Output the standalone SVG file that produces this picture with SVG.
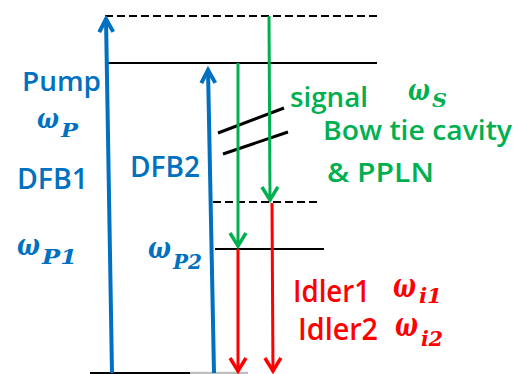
<svg xmlns="http://www.w3.org/2000/svg" width="525" height="374" viewBox="0 0 525 374">
<style>
.lvl{stroke:#000;stroke-width:2;fill:none}
.dash{stroke-dasharray:8 4}
.blue{stroke:#0070C0;stroke-width:4;fill:none}
.green{stroke:#00B050;stroke-width:3;fill:none}
.red{stroke:#FF0000;stroke-width:3;fill:none}
.t{font-family:"Open Sans","Liberation Sans",sans-serif;font-weight:600}
.m{font-family:"DejaVu Serif","Liberation Serif",serif;font-style:italic;font-weight:bold}
.cb{fill:#0070C0}.cg{fill:#00B050}.cr{fill:#FF0000}
</style>
<defs>
<marker id="ab" markerUnits="userSpaceOnUse" orient="auto" refX="0" refY="0" markerWidth="30" markerHeight="30" viewBox="-20 -15 30 30" overflow="visible"><path d="M-14,-7 L-1,0 L-14,7" fill="none" stroke="#0070C0" stroke-width="4"/></marker>
<marker id="ag" markerUnits="userSpaceOnUse" orient="auto" refX="0" refY="0" markerWidth="30" markerHeight="30" viewBox="-20 -15 30 30" overflow="visible"><path d="M-14,-8 L-1,0 L-14,8" fill="none" stroke="#00B050" stroke-width="3.5"/></marker>
<marker id="ar" markerUnits="userSpaceOnUse" orient="auto" refX="0" refY="0" markerWidth="30" markerHeight="30" viewBox="-20 -15 30 30" overflow="visible"><path d="M-14,-8 L-1,0 L-14,8" fill="none" stroke="#FF0000" stroke-width="3.5"/></marker>
</defs>
<g id="levels">
<path class="lvl dash" d="M105,16 H377"/>
<path class="lvl" d="M108,63 H377"/>
<path class="lvl dash" d="M213,202 H320"/>
<path class="lvl" d="M215,249 H324"/>
<path class="lvl" d="M90,373 H190" stroke-width="2.5"/>
<path d="M190,373 H248" stroke="#bfbfbf" stroke-width="2.5"/>
</g>
<g id="cavity">
<path d="M218,133 L284,108 M223,154 L288,132" stroke="#000" stroke-width="3" fill="none"/>
</g>
<g id="connectors">
<path id="dfb1" class="blue" d="M112,373 L106,18" marker-end="url(#ab)"/>
<path id="dfb2" class="blue" d="M214,373 L208,69" marker-end="url(#ab)"/>
<path id="signal1" class="green" d="M238,63 L238,247" marker-end="url(#ag)"/>
<path id="signal2" class="green" d="M269,16 L270,201" marker-end="url(#ag)"/>
<path id="idler1" class="red" d="M238,249 L238,372" marker-end="url(#ar)"/>
<path id="idler2" class="red" d="M272,203 L273,372" marker-end="url(#ar)"/>
</g>
<g id="pump-label">
<text class="t cb" x="22" y="91" font-size="27" textLength="79" lengthAdjust="spacingAndGlyphs">Pump</text>
<text class="m cb" x="37" y="128" font-size="28" textLength="22" lengthAdjust="spacingAndGlyphs">ω</text>
<text class="m cb" x="61" y="137" font-size="19" textLength="17" lengthAdjust="spacingAndGlyphs">P</text>
</g>
<g id="dfb1-label">
<text class="t cb" x="17" y="189" font-size="28" textLength="71" lengthAdjust="spacingAndGlyphs">DFB1</text>
<text class="m cb" x="17" y="255" font-size="30" textLength="23" lengthAdjust="spacingAndGlyphs">ω</text>
<text class="m cb" x="42" y="264" font-size="20" textLength="35" lengthAdjust="spacingAndGlyphs">P1</text>
</g>
<g id="dfb2-label">
<text class="t cb" x="130" y="177" font-size="28" textLength="70" lengthAdjust="spacingAndGlyphs">DFB2</text>
<text class="m cb" x="148" y="258" font-size="30" textLength="23" lengthAdjust="spacingAndGlyphs">ω</text>
<text class="m cb" x="173" y="269" font-size="20" textLength="29" lengthAdjust="spacingAndGlyphs">P2</text>
</g>
<g id="signal-label">
<text class="t cg" x="290" y="107" font-size="27" textLength="78" lengthAdjust="spacingAndGlyphs">signal</text>
<text class="m cg" x="408" y="100" font-size="30" textLength="22" lengthAdjust="spacingAndGlyphs">ω</text>
<text class="m cg" x="432" y="107" font-size="19" textLength="15" lengthAdjust="spacingAndGlyphs">S</text>
<text class="t cg" x="323" y="140" font-size="27" textLength="189" lengthAdjust="spacingAndGlyphs">Bow tie cavity</text>
<text class="t cg" x="327" y="182" font-size="27" textLength="107" lengthAdjust="spacingAndGlyphs">&amp; PPLN</text>
</g>
<g id="idler-label">
<text class="t cr" x="293" y="302" font-size="30" textLength="77" lengthAdjust="spacingAndGlyphs">Idler1</text>
<text class="m cr" x="393" y="297" font-size="34" textLength="23" lengthAdjust="spacingAndGlyphs">ω</text>
<text class="m cr" x="419" y="303" font-size="21" textLength="23" lengthAdjust="spacingAndGlyphs">i1</text>
<text class="t cr" x="298" y="340" font-size="30" textLength="80" lengthAdjust="spacingAndGlyphs">Idler2</text>
<text class="m cr" x="395" y="336" font-size="34" textLength="23" lengthAdjust="spacingAndGlyphs">ω</text>
<text class="m cr" x="421" y="346" font-size="21" textLength="22" lengthAdjust="spacingAndGlyphs">i2</text>
</g>
</svg>
